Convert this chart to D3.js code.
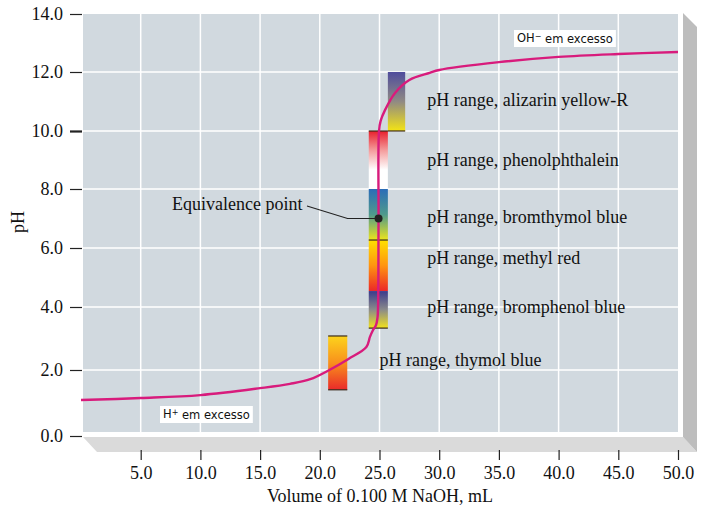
<!DOCTYPE html>
<html>
<head>
<meta charset="utf-8">
<script src="https://cdn.jsdelivr.net/npm/d3@7"></script>
<style>
  body { margin: 0; background: #fff; }
  svg { display: block; }
  .serif { font-family: "Liberation Serif", "Times New Roman", serif; fill: #111; }
</style>
</head>
<body>
<div id="chart"></div>
<script>
// titration curve
const volumes  = [0, 5, 10, 15, 17.5, 19.2, 20.8, 22.4, 23.9, 24.2, 24.46, 24.71, 24.83, 24.885, 24.92, 24.96, 25.1, 25.45, 26.3, 27.5, 29.2, 30, 35, 40, 45, 50];
const pHValues = [1.09, 1.15, 1.24, 1.45, 1.58, 1.72, 2.0, 2.35, 2.73, 3.05, 3.27, 3.43, 3.65, 4.1, 7.0, 10.0, 10.35, 10.7, 11.29, 11.73, 11.97, 12.07, 12.34, 12.52, 12.62, 12.69];

const xTicks = [5, 10, 15, 20, 25, 30, 35, 40, 45, 50];
const yTicks = [0, 2, 4, 6, 8, 10, 12, 14];

// indicator ranges
const indicatorNames = ['alizarin yellow-R', 'phenolphthalein', 'bromthymol blue', 'methyl red', 'bromphenol blue', 'thymol blue'];
const indicatorLow   = [10.0, 8.0, 6.27, 4.54, 3.33, 1.4];
const indicatorHigh  = [12.0, 10.0, 8.0, 6.27, 4.54, 3.08];
const indicatorVolFrom = [25.7, 24.1, 24.1, 24.1, 24.1, 20.7];
const indicatorVolTo   = [27.15, 25.7, 25.7, 25.7, 25.7, 22.3];

const equivalenceVol = 24.92;
const equivalencePH = 7.0;

// styling for the indicator bars (top -> bottom colours)
const indicatorColors = [
    ['#4f4c9c', '#908a84', '#f4e414'],
    ['#e8202c', '#f49c9c', '#ffffff', '#ffffff'],
    ['#2a6cb8', '#4f9a8c', '#ece41c'],
    ['#ffe000', '#ff9410', '#ec2828'],
    ['#3a3a8c', '#8a8a8a', '#f2e21c'],
    ['#fcd41c', '#f8901c', '#ea2a2a']
];
const indicatorEdges = [['bottom'], ['top'], [], ['top'], ['bottom'], ['top', 'bottom']];
const labelPH  = [11.05, 9.02, 7.06, 5.67, 4.0, 2.32];
const labelVol = [29.0, 29.0, 29.0, 29.0, 29.0, 25.0];

const W = 704, H = 509;
const svg = d3.select('#chart').append('svg')
    .attr('width', W)
    .attr('height', H);

const x = d3.scaleLinear().domain([0, 50]).range([81, 678]);
// the printed axis is not quite uniform near the bottom
const y = d3.scaleLinear()
    .domain([0, 2, 4, 6, 8, 10, 12, 14])
    .range([436, 370, 307, 248, 189, 131, 72, 14]);

const panelL = 83, panelR = 678, panelT = 14, panelB = 432;

// 3d floor and wall
svg.append('polygon')
    .attr('points', [[panelL, 437], [683, 437], [697, 452], [97, 452]].join(' '))
    .attr('fill', '#dadada');
svg.append('polygon')
    .attr('points', [[683, 13], [697, 27], [697, 452], [683, 437]].join(' '))
    .attr('fill', '#bdbdbd');

// plot panel
svg.append('rect')
    .attr('x', panelL).attr('y', panelT)
    .attr('width', panelR - panelL).attr('height', panelB - panelT)
    .attr('fill', '#d1d9df');

const grid = svg.append('g').attr('stroke', '#fff').attr('stroke-width', 1.5);
grid.selectAll('line.v')
    .data(xTicks.filter(d => d < 50))
    .enter().append('line')
    .attr('x1', d => x(d)).attr('x2', d => x(d))
    .attr('y1', panelT).attr('y2', panelB);
grid.selectAll('line.h')
    .data(yTicks.filter(d => d > 0 && d < 14))
    .enter().append('line')
    .attr('x1', panelL).attr('x2', panelR)
    .attr('y1', d => y(d)).attr('y2', d => y(d));

// axes
const yAxis = svg.append('g')
    .attr('transform', 'translate(82,0)')
    .call(d3.axisLeft(y).tickValues(yTicks).tickFormat(d3.format('.1f')).tickSize(12).tickPadding(7));
yAxis.select('.domain').remove();
yAxis.selectAll('line').attr('stroke', '#222').attr('stroke-width', d => d === 10 ? 2.2 : 1.2);
yAxis.selectAll('text').attr('class', 'serif').style('font-size', '18px').attr('fill', '#111');

const xAxis = svg.append('g')
    .attr('transform', 'translate(0,450)')
    .call(d3.axisBottom(x).tickValues(xTicks).tickFormat(d3.format('.1f')).tickSize(10).tickPadding(6));
xAxis.select('.domain').remove();
xAxis.selectAll('line').attr('stroke', '#222').attr('stroke-width', 1.2);
xAxis.selectAll('text').attr('class', 'serif').style('font-size', '18px').attr('fill', '#111');

svg.append('text')
    .attr('class', 'serif')
    .attr('x', 380).attr('y', 502)
    .attr('text-anchor', 'middle')
    .style('font-size', '18px')
    .text('Volume of 0.100 M NaOH, mL');

svg.append('text')
    .attr('class', 'serif')
    .attr('transform', 'translate(24,222) rotate(-90)')
    .attr('text-anchor', 'middle')
    .style('font-size', '18px')
    .text('pH');

// indicator bars
const defs = svg.append('defs');
indicatorNames.forEach((name, i) => {
    const grad = defs.append('linearGradient')
        .attr('id', 'grad' + i)
        .attr('x1', 0).attr('y1', 0).attr('x2', 0).attr('y2', 1);
    const cols = indicatorColors[i];
    cols.forEach((c, j) => {
        grad.append('stop')
            .attr('offset', j / (cols.length - 1))
            .attr('stop-color', c);
    });
});

const bars = svg.append('g');
indicatorNames.forEach((name, i) => {
    const x0 = x(indicatorVolFrom[i]), x1 = x(indicatorVolTo[i]);
    const y0 = y(indicatorHigh[i]), y1 = y(indicatorLow[i]);
    bars.append('rect')
        .attr('x', x0).attr('y', y0)
        .attr('width', x1 - x0).attr('height', y1 - y0)
        .attr('fill', `url(#grad${i})`);
    indicatorEdges[i].forEach(e => {
        const yy = e === 'top' ? y0 : y1;
        bars.append('line')
            .attr('x1', x0).attr('x2', x1)
            .attr('y1', yy).attr('y2', yy)
            .attr('stroke', '#3a2a1a').attr('stroke-width', 1.2);
    });
    svg.append('text')
        .attr('class', 'serif')
        .attr('x', x(labelVol[i]))
        .attr('y', y(labelPH[i]))
        .attr('dy', '0.35em')
        .style('font-size', '18px')
        .text('pH range, ' + name);
});

// titration curve
const line = d3.line()
    .x(d => x(d[0]))
    .y(d => y(d[1]))
    .curve(d3.curveCatmullRom.alpha(0.5));
svg.append('path')
    .datum(volumes.map((v, i) => [v, pHValues[i]]))
    .attr('d', line)
    .attr('fill', 'none')
    .attr('stroke', '#d81b7c')
    .attr('stroke-width', 2.4);

// equivalence point
const ex = x(equivalenceVol), ey = y(equivalencePH);
svg.append('path')
    .attr('d', `M307,206 L${ex - 31},${ey} L${ex},${ey}`)
    .attr('fill', 'none')
    .attr('stroke', '#222')
    .attr('stroke-width', 1.1);
svg.append('circle')
    .attr('cx', ex).attr('cy', ey).attr('r', 4)
    .attr('fill', '#222');
svg.append('text')
    .attr('class', 'serif')
    .attr('x', 172).attr('y', y(7.5))
    .attr('dy', '0.35em')
    .style('font-size', '18px')
    .text('Equivalence point');

// excess labels
function boxLabel(cx, cy, parts) {
    const g = svg.append('g');
    const t = g.append('text')
        .attr('x', cx).attr('y', cy)
        .attr('dy', '0.35em')
        .style('font-family', '"DejaVu Sans", Verdana, sans-serif')
        .style('font-size', '11.5px')
        .attr('fill', '#111');
    parts.forEach(p => {
        const s = t.append('tspan').text(p.text);
        if (p.sup) s.attr('dy', '-0.4em').style('font-size', '8px');
        if (p.after) s.attr('dy', '0.4em');
    });
    const bb = t.node().getBBox();
    g.insert('rect', 'text')
        .attr('x', bb.x - 3).attr('y', cy - 8)
        .attr('width', bb.width + 6).attr('height', 17)
        .attr('fill', '#fff');
}
boxLabel(517, 38, [{ text: 'OH' }, { text: '\u2212', sup: true }, { text: ' em excesso', after: true }]);
boxLabel(163, 414, [{ text: 'H' }, { text: '+', sup: true }, { text: ' em excesso', after: true }]);
</script>
</body>
</html>
